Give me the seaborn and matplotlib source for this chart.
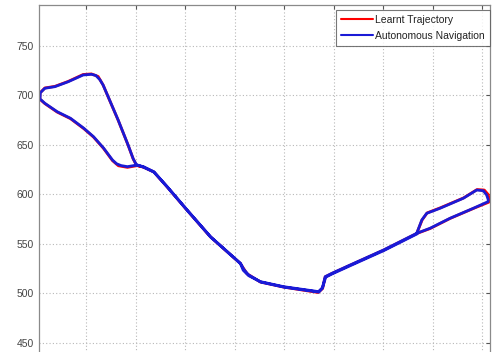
import matplotlib
matplotlib.use("Agg")
import matplotlib.pyplot as plt
import seaborn as sns
import pandas as pd

# Autonomous Navigation path (blue)
nav_x = [434.0, 439.1, 444.1, 457.6, 481.1, 494.6, 501.3, 504.7, 506.4,
         506.0, 491.3, 467.7, 447.5, 434.0, 400.3, 366.7, 348.2, 341.4, 338.6, 334.6,
         299.3, 275.8, 264.0, 258.5, 255.6, 225.3, 201.7, 181.5, 168.0, 157.6,
         150.6, 147.2, 142.2, 132.0, 121.9, 116.8, 113.5, 109.5, 105.0, 96.6, 81.5, 68.0, 57.9, 53.3,
         53.0, 57.9, 70.4, 83.8, 97.3, 107.1, 117.2, 126.3, 130.5, 135.0, 141.4, 151.5, 157.6,
         168.5, 182.0, 202.2, 225.8, 256.0, 259.0, 263.8, 276.3, 299.8, 335.0, 338.6, 341.9,
         348.7, 367.2, 400.8, 434.5]
nav_y = [560.8, 574.2, 581.0, 586.1, 596.2, 604.5, 603.8, 599.5, 594.4,
         592.7, 586.1, 576.0, 565.9, 560.8, 543.9, 528.8, 520.4, 517.0, 505.8, 501.9,
         506.9, 512.0, 518.0, 523.5, 530.5, 557.4, 584.3, 607.9, 623.0, 628.1,
         629.8, 636.2, 649.7, 675.3, 698.8, 710.6, 716.0, 720.2, 721.4, 720.7, 713.9, 708.9, 707.3, 702.8,
         696.5, 692.1, 683.6, 677.0, 666.9, 658.4, 647.0, 634.8, 631.0, 629.2, 628.1, 629.8, 627.6,
         622.5, 607.4, 583.8, 556.9, 530.0, 524.5, 518.9, 511.5, 506.4, 501.4, 505.3, 516.5,
         519.9, 528.3, 543.4, 560.3]

# Learnt Trajectory path (red)
learnt_x = [434.0, 439.5, 444.5, 458.0, 481.5, 495.0, 502.3, 506.2, 507.6,
            506.8, 491.3, 467.7, 447.5, 434.0, 400.3, 366.7, 348.2, 341.4, 338.8, 334.2,
            299.3, 275.8, 262.3, 255.6, 225.3, 201.7, 181.5, 168.0, 157.6,
            150.6, 147.2, 142.2, 132.0, 121.9, 116.8, 111.8, 105.0, 96.6, 81.5, 68.0, 57.9, 53.0,
            52.8, 57.9, 70.4, 83.8, 97.3, 107.1, 117.2, 126.3, 132.3, 141.4, 151.5, 157.6]
learnt_y = [560.8, 574.4, 581.4, 586.6, 596.6, 605.0, 604.5, 600.0, 594.6,
            592.2, 585.9, 575.8, 565.6, 560.6, 543.7, 528.6, 520.2, 516.8, 505.0, 501.0,
            506.5, 511.6, 520.0, 530.3, 557.2, 584.1, 607.7, 622.8, 627.6,
            629.4, 636.0, 649.5, 675.1, 698.6, 710.6, 719.2, 721.8, 721.2, 714.2, 709.2, 707.6, 702.6,
            696.3, 691.8, 683.2, 676.6, 666.5, 658.0, 646.6, 634.2, 629.0, 627.4, 629.2, 627.8]

x_ticks = [100, 150, 200, 250, 300, 350, 400, 450, 500]
y_ticks = [450, 500, 550, 600, 650, 700, 750]

sns.set_style("white")
plt.rcParams['font.family'] = ['Liberation Sans', 'DejaVu Sans']

fig = plt.figure(figsize=(4.99, 3.52), dpi=100)
ax = fig.add_axes([0.0782, -0.0588, 0.9038, 1.0446])

df_l = pd.DataFrame({"x": learnt_x, "y": learnt_y})
df_n = pd.DataFrame({"x": nav_x, "y": nav_y})
sns.lineplot(data=df_l, x="x", y="y", sort=False, estimator=None, ax=ax,
             color="#ff0000", linewidth=2.0, label="Learnt Trajectory",
             solid_joinstyle="round", solid_capstyle="round")
sns.lineplot(data=df_n, x="x", y="y", sort=False, estimator=None, ax=ax,
             color="#1a1ad6", linewidth=2.0, label="Autonomous Navigation",
             solid_joinstyle="round", solid_capstyle="round")

ax.set_xlim(52.0, 508.1)
ax.set_ylim(420, 791.4)
ax.set_xticks(x_ticks)
ax.set_xticklabels([])
ax.set_yticks(y_ticks)
ax.set_xlabel("")
ax.set_ylabel("")
ax.grid(True, linestyle=(0, (1, 2)), color="#b8b8b8", linewidth=0.8)
ax.tick_params(direction="in", length=3, width=0.8, colors="#555555",
               labelsize=7.5, top=True, right=True, labelcolor="#444444")
for s in ax.spines.values():
    s.set_color("#8a8a8a")
    s.set_linewidth(0.9)

leg = ax.legend(loc="upper right", bbox_to_anchor=(1.0, 0.9864), borderaxespad=0,
                fontsize=7.5, frameon=True, fancybox=False, handlelength=3.1,
                handletextpad=0.25, borderpad=0.47, labelspacing=0.55)
leg.get_frame().set_edgecolor("#555555")
leg.get_frame().set_linewidth(0.8)
for t in leg.get_texts():
    t.set_color("#222222")
for h in leg.get_lines():
    h.set_linewidth(1.5)

fig.savefig("out.png", dpi=100)
